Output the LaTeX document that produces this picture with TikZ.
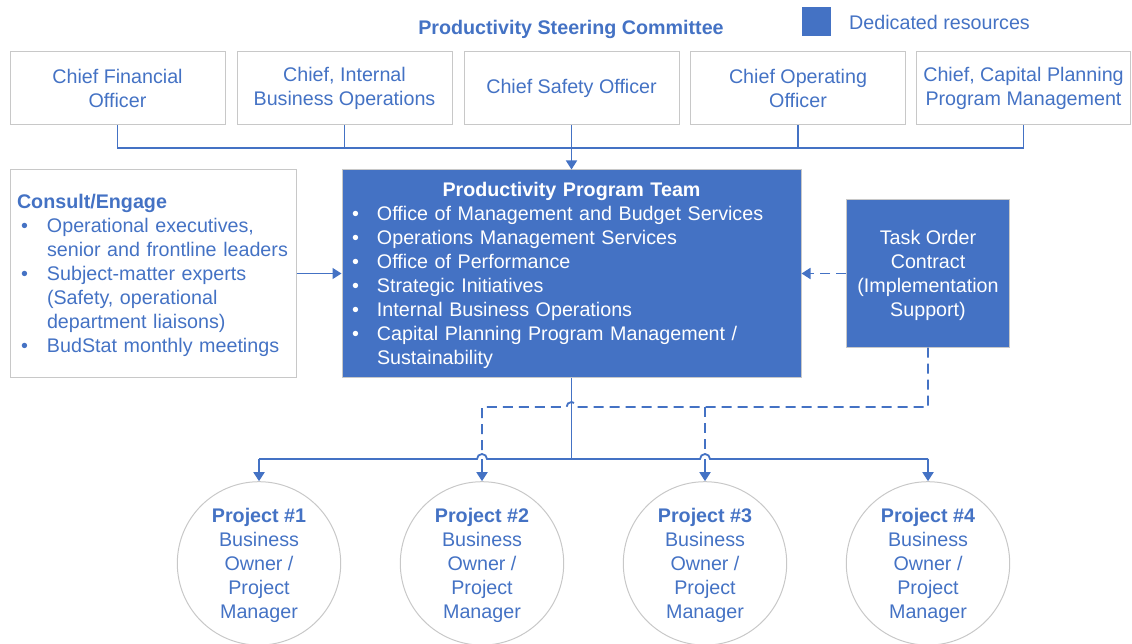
\documentclass[tikz,border=0pt]{standalone}
\usepackage{fontspec}
\setmainfont{Liberation Sans}
\usetikzlibrary{arrows.meta}
\definecolor{accent}{HTML}{4472C4}
\definecolor{edge}{HTML}{C8C8C8}
\newcommand\mybul{\makebox[25pt][l]{\textbullet}}
\newcommand\mybulc{\hspace*{4pt}\makebox[26pt][l]{\textbullet}}
\newcommand\topfix{\rule{0pt}{18.4pt}}
\begin{document}
\begin{tikzpicture}[x=1pt,y=-1pt,
  every node/.style={font=\fontsize{19.7}{24}\selectfont, text=accent},
  topbox/.style={draw=edge, line width=1pt, minimum width=215pt, minimum height=73pt, align=center, inner sep=0pt},
  bluebox/.style={draw=edge, line width=1pt, fill=accent, text=white},
  proj/.style={circle, draw=edge, line width=1pt, minimum size=163.4pt, inner sep=0pt, align=center},
  conn/.style={draw=accent, line width=1.8pt},
  thinconn/.style={draw=accent, line width=1.5pt},
  dashconn/.style={draw=accent, line width=1.8pt, dash pattern=on 10pt off 6pt},
  arr/.style={-{Triangle[width=11pt,length=9pt]}}
]
\useasboundingbox (0,0) rectangle (1132,644);

% header
\node[font=\fontsize{19.7}{24}\selectfont\bfseries, inner sep=0pt] (title) at (571,29) {Productivity Steering Committee};
\node[fill=accent, minimum width=29pt, minimum height=29pt, inner sep=0pt] (leg) at (816.5,21.5) {};
\node[anchor=west, inner sep=0pt] (legt) at (849,22) {Dedicated resources};

% committee boxes
\node[topbox] (cfo) at (117.5,88.5) {Chief Financial\\Officer};
\node[topbox] (cibo) at (344.5,88.5) {Chief, Internal\\Business Operations};
\node[topbox] (cso) at (571.5,88.5) {Chief Safety Officer};
\node[topbox] (coo) at (798,88.5) {Chief Operating\\Officer};
\node[topbox, minimum width=214pt] (ccp) at (1023.5,88.5) {Chief, Capital Planning\\Program Management};

% middle row
\node[draw=edge, line width=1pt, minimum width=286pt, minimum height=207pt, text width=272pt, inner xsep=7pt, inner ysep=0pt, align=left] (consult) at (153,273.5)
 {\topfix{\bfseries Consult/Engage}\\
  \mybulc Operational executives,\\
  \hspace*{30pt}senior and frontline leaders\\
  \mybulc Subject-matter experts\\
  \hspace*{30pt}(Safety, operational\\
  \hspace*{30pt}department liaisons)\\
  \mybulc BudStat monthly meetings};

\node[bluebox, minimum width=459pt, minimum height=207pt, text width=439pt, inner xsep=10pt, inner ysep=0pt, align=left] (team) at (571.5,273.5)
 {\topfix\makebox[439pt][c]{\bfseries Productivity Program Team}\\
  \mybul Office of Management and Budget Services\\
  \mybul Operations Management Services\\
  \mybul Office of Performance\\
  \mybul Strategic Initiatives\\
  \mybul Internal Business Operations\\
  \mybul Capital Planning Program Management /\\
  \hspace*{25pt}Sustainability};

\node[bluebox, minimum width=163pt, minimum height=147pt, inner sep=0pt, align=center] (task) at (928,273.5)
 {\topfix Task Order\\Contract\\(Implementation\\Support)};

% projects
\node[proj] (p1) at (259,563.4) {\topfix\textbf{Project \#1}\\Business\\Owner /\\Project\\Manager};
\node[proj] (p2) at (482,563.4) {\topfix\textbf{Project \#2}\\Business\\Owner /\\Project\\Manager};
\node[proj] (p3) at (705,563.4) {\topfix\textbf{Project \#3}\\Business\\Owner /\\Project\\Manager};
\node[proj] (p4) at (928,563.4) {\topfix\textbf{Project \#4}\\Business\\Owner /\\Project\\Manager};

% top connectors
\coordinate (bus) at (571.5,148);
\draw[thinconn] (cfo.south) -- (cfo.south |- bus) -- (ccp.south |- bus) -- (ccp.south);
\draw[thinconn] (cibo.south) -- (cibo.south |- bus);
\draw[thinconn] (coo.south) -- (coo.south |- bus);
\draw[thinconn, arr] (cso.south) -- (team.north);

% side connectors
\draw[thinconn, arr] (consult.east) -- (team.west);
\draw[dashconn, arr] (task.west) -- (team.east);

% bottom connectors
\coordinate (hub) at (571.5,459);
\coordinate (dhub) at (571.5,407);
\draw[conn] (team.south) -- (hub);
\draw[conn] (p1.north |- hub) -- ([xshift=-5pt]p2.north |- hub) arc(180:0:5pt)
  -- ([xshift=-5pt]p3.north |- hub) arc(180:0:5pt) -- (p4.north |- hub);
\draw[conn, arr] (p1.north |- hub) -- (p1.north);
\draw[conn, arr] (p2.north |- hub) -- (p2.north);
\draw[conn, arr] (p3.north |- hub) -- (p3.north);
\draw[conn, arr] (p4.north |- hub) -- (p4.north);

\draw[dashconn] (task.south) -- (task.south |- dhub) -- ([xshift=5pt]dhub) arc(0:180:5pt)
  -- (p2.north |- dhub) -- ([yshift=5pt]p2.north |- hub);
\draw[dashconn] (p3.north |- dhub) -- ([yshift=5pt]p3.north |- hub);
\end{tikzpicture}
\end{document}
